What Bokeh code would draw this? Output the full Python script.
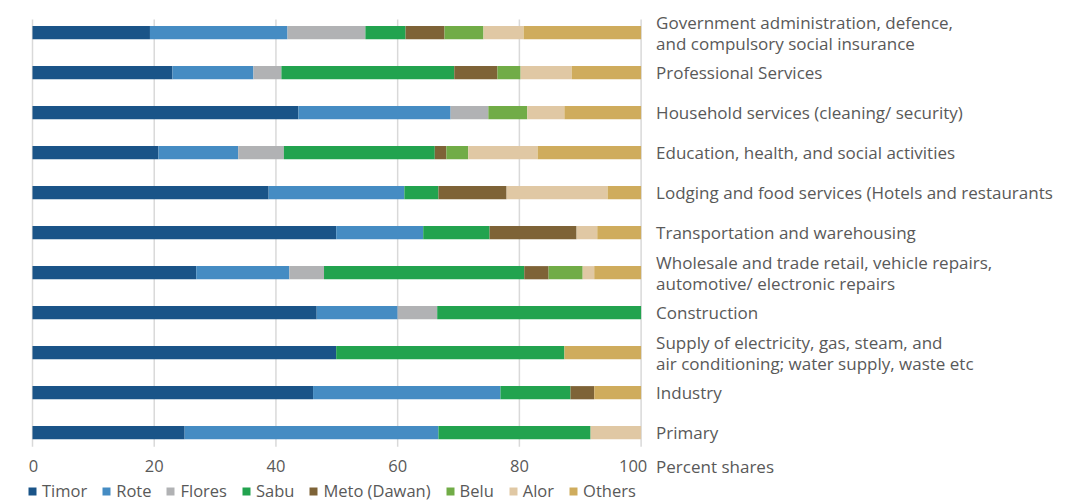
from bokeh.plotting import figure
from bokeh.models import ColumnDataSource, Range1d, Legend, LegendItem
from bokeh.core.properties import value
from bokeh.embed import file_html
from bokeh.resources import INLINE

categories = [
    "Government administration, defence,\nand compulsory social insurance",
    "Professional Services",
    "Household services (cleaning/ security)",
    "Education, health, and social activities",
    "Lodging and food services (Hotels and restaurants",
    "Transportation and warehousing",
    "Wholesale and trade retail, vehicle repairs,\nautomotive/ electronic repairs",
    "Construction",
    "Supply of electricity, gas, steam, and\nair conditioning; water supply, waste etc",
    "Industry",
    "Primary",
]
series = ["Timor", "Rote", "Flores", "Sabu", "Meto (Dawan)", "Belu", "Alor", "Others"]
timor  = [19.3, 23.0, 43.7, 20.7, 38.8, 49.9, 26.9, 46.7, 49.9, 46.1, 25.0]
rote   = [22.6, 13.3, 25.0, 13.1, 22.3, 14.3, 15.3, 13.3, 0.0, 30.8, 41.7]
flores = [12.8, 4.6, 6.2, 7.5, 0.0, 0.0, 5.7, 6.5, 0.0, 0.0, 0.0]
sabu   = [6.6, 28.4, 0.0, 24.8, 5.6, 10.9, 32.9, 33.5, 37.5, 11.5, 25.0]
meto   = [6.4, 7.1, 0.0, 1.9, 11.2, 14.3, 4.0, 0.0, 0.0, 3.9, 0.0]
belu   = [6.4, 3.8, 6.4, 3.6, 0.0, 0.0, 5.6, 0.0, 0.0, 0.0, 0.0]
alor   = [6.6, 8.4, 6.1, 11.4, 16.6, 3.4, 1.9, 0.0, 0.0, 0.0, 8.3]
others = [19.3, 11.4, 12.6, 17.0, 5.5, 7.2, 7.7, 0.0, 12.6, 7.7, 0.0]
x_ticks = [0, 20, 40, 60, 80, 100]
x_tick_labels = ["0", "20", "40", "60", "80", "100"]
x_axis_title = "Percent shares"
colors = ["#1A5488", "#458CC3", "#B1B2B4", "#22A34F", "#7E6337", "#71AC47", "#E0C8A4", "#CFAC5D"]

FONT = "Open Sans"
GRAY = "#595959"

LEFT_PAD = 32                         # pixels left of x = 0
FRAME_W = 1080
FRAME_H = 502
PX_PER_100 = 608.6                    # pixels spanned by 0..100
PX_PER_ROW = 40.0
X_MIN = -100.0 * LEFT_PAD / PX_PER_100
X_MAX = X_MIN + 100.0 * FRAME_W / PX_PER_100
LABEL_X = 100.0 + 100.0 * 15 / PX_PER_100

n = len(categories)
GRID_TOP = -0.33
GRID_BOTTOM = n - 0.65
Y_TOP = GRID_TOP - 19 / PX_PER_ROW     # room above the grid for the first label
Y_BOTTOM = Y_TOP + FRAME_H / PX_PER_ROW
TICK_Y = GRID_BOTTOM + 19.5 / PX_PER_ROW  # row of the x tick labels

ypos = list(range(n))
source = ColumnDataSource(dict(
    y=ypos, Timor=timor, Rote=rote, Flores=flores, Sabu=sabu,
    Meto=meto, Belu=belu, Alor=alor, Others=others,
    label=categories, lx=[LABEL_X] * n,
))
keys = ["Timor", "Rote", "Flores", "Sabu", "Meto", "Belu", "Alor", "Others"]

p = figure(frame_width=FRAME_W, frame_height=FRAME_H, output_backend="svg",
           toolbar_location=None, x_range=Range1d(X_MIN, X_MAX),
           y_range=Range1d(Y_BOTTOM, Y_TOP),
           min_border_left=0, min_border_top=0, min_border_bottom=0, min_border_right=0)
p.outline_line_color = None
p.xaxis.visible = False
p.yaxis.visible = False
p.xgrid.visible = False
p.ygrid.visible = False

# vertical gridlines limited to the bar area
p.segment(x0=x_ticks, x1=x_ticks, y0=[GRID_TOP] * len(x_ticks), y1=[GRID_BOTTOM] * len(x_ticks),
          line_color="#D9D9D9", line_width=1.5)

renderers = p.hbar_stack(keys, y="y", height=0.33, color=colors, source=source, line_color=None)

# category labels to the right of the bars
p.text(x="lx", y="y", text="label", source=source, text_font=value(FONT),
       text_font_size="17px", text_color=GRAY, text_align="left",
       text_baseline="middle", text_line_height=0.93)

# x tick labels ("100" sits slightly left of its gridline, as in the original)
tick_src = ColumnDataSource(dict(
    x=x_ticks, y=[TICK_Y] * len(x_ticks), t=x_tick_labels,
    dx=[1, 0, 0, 0, 0, -8],
))
p.text(x="x", y="y", text="t", x_offset="dx", source=tick_src, text_font=value(FONT),
       text_font_size="16.5px", text_color=GRAY, text_align="center", text_baseline="middle")

p.text(x=[LABEL_X], y=[TICK_Y], text=[x_axis_title], text_font=value(FONT),
       text_font_size="17px", text_color=GRAY, text_align="left", text_baseline="middle")

legend = Legend(items=[LegendItem(label=s, renderers=[r]) for s, r in zip(series, renderers)],
                orientation="horizontal", location=(27, 0),
                label_text_font=FONT, label_text_font_size="16.5px", label_text_color=GRAY,
                label_height=16,
                glyph_width=10, glyph_height=10, label_standoff=5, spacing=14,
                padding=0, margin=0, border_line_color=None, background_fill_alpha=0)
p.add_layout(legend)

open("out.html", "w").write(file_html(p, INLINE))
